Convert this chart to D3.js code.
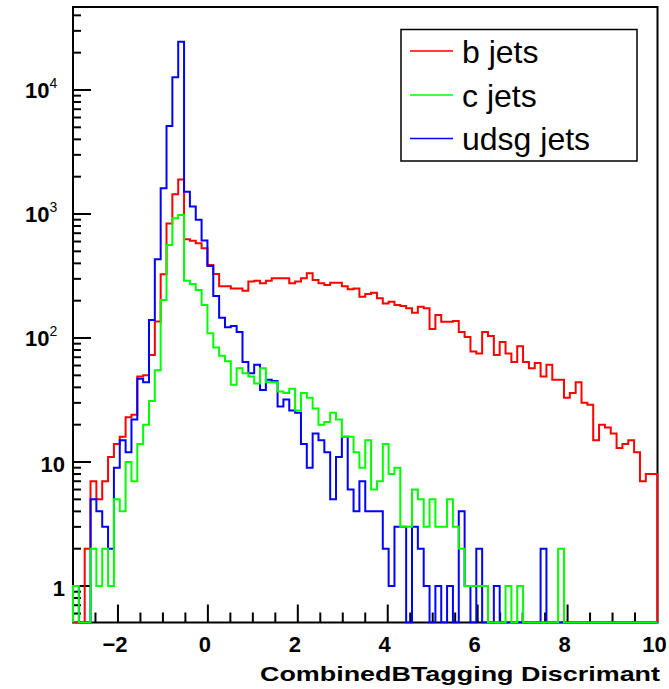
<!DOCTYPE html>
<meta charset="UTF-8">
<title>CombinedBTagging Discrimant</title>
<style>
body { margin: 0; background: #fff; }
text { font-family: "Liberation Sans", Arial, sans-serif; }
</style>
<svg width="669" height="689"></svg>
<script src="https://d3js.org/d3.v7.min.js"></script>
<script>
// histogram binning: 100 bins from -3 to 10
var binLow = -3, binWidth = 0.13;

var bJets = [0, 0, 2, 7, 5, 7, 11, 14, 16, 23,
  24, 49, 50, 73, 136, 327, 840, 1440, 1900, 625,
  609, 580, 529, 388, 328, 262, 262, 251, 251, 241,
  285, 290, 276, 290, 303, 303, 303, 276, 285, 303,
  333, 294, 276, 267, 279, 279, 262, 247, 251, 215,
  226, 232, 209, 190, 196, 185, 181, 174, 160, 179,
  174, 118, 153, 135, 135, 137, 112, 102, 78, 75,
  112, 104, 73, 93, 75, 64, 86, 64, 57, 63,
  49, 61, 46, 46, 33, 36, 44, 30, 29, 15,
  20, 19, 17, 13, 14, 15, 12, 7, 8, 8];

var cJets = [1, 0, 0, 2, 1, 2, 1, 5, 4, 10,
  7, 14, 20, 31, 55, 203, 562, 923, 982, 290,
  272, 244, 185, 109, 84, 72, 65, 42, 57, 52,
  49, 43, 57, 44, 44, 37, 36, 39, 26, 36,
  33, 27, 20, 21, 25, 22, 16, 16, 12, 9,
  15, 6, 7, 14, 8, 9, 3, 3, 6, 5,
  3, 5, 3, 3, 5, 3, 2, 1, 1, 1,
  1, 0, 0, 0, 1, 0, 1, 0, 0, 0,
  0, 0, 0, 2, 0, 0, 0, 0, 0, 0,
  0, 0, 0, 0, 0, 0, 0, 0, 0, 0];

var udsgJets = [1, 0, 0, 5, 4, 3, 2, 9, 15, 12,
  22, 47, 44, 140, 431, 1610, 5130, 12650, 24500, 1510,
  1150, 900, 612, 380, 218, 146, 122, 125, 112, 64,
  52, 61, 38, 46, 45, 28, 32, 26, 25, 14,
  9, 17, 15, 12, 5, 11, 16, 6, 4, 7,
  4, 4, 4, 2, 1, 3, 3, 0, 3, 2,
  1, 0, 1, 0, 1, 0, 4, 1, 0, 2,
  0, 0, 1, 0, 0, 0, 0, 0, 0, 0,
  2, 0, 0, 0, 0, 0, 0, 0, 0, 0,
  0, 0, 0, 0, 0, 0, 0, 0, 0, 0];

var seriesNames = ["b jets", "c jets", "udsg jets"];
var seriesColors = ["#ff0000", "#00ff00", "#0000ff"];
var xTicks = [-2, 0, 2, 4, 6, 8, 10];
var xTickLabels = ["\u22122", "0", "2", "4", "6", "8", "10"];
var yTicks = [1, 10, 100, 1000, 10000];
var yTickLabels = ["1", "10", "10^2", "10^3", "10^4"];

var svg = d3.select("svg"),
    frame = {left: 73, right: 657.5, top: 7, bottom: 622.5};

var x = d3.scaleLinear().domain([-3, 10]).range([frame.left, frame.right]);
var y = d3.scaleLog().domain([0.508, 46700]).range([frame.bottom, frame.top]);

svg.append("defs").append("clipPath").attr("id", "plot")
  .append("rect")
    .attr("x", frame.left - 1).attr("y", frame.top)
    .attr("width", frame.right - frame.left + 2)
    .attr("height", frame.bottom - frame.top + 1);

// frame
svg.append("rect")
    .attr("x", frame.left).attr("y", frame.top)
    .attr("width", frame.right - frame.left)
    .attr("height", frame.bottom - frame.top)
    .attr("fill", "none")
    .attr("stroke", "#000")
    .attr("stroke-width", 2);

// x ticks (inside, pointing up)
var xMinor = d3.range(-2.5, 10, 0.5);
svg.append("g").selectAll("line")
  .data(xMinor)
  .enter().append("line")
    .attr("x1", function(d) { return x(d); })
    .attr("x2", function(d) { return x(d); })
    .attr("y1", frame.bottom)
    .attr("y2", function(d) { return frame.bottom - (d % 2 === 0 ? 18 : 10); })
    .attr("stroke", "#000")
    .attr("stroke-width", 2);

svg.append("g").selectAll("text")
  .data(xTicks)
  .enter().append("text")
    .attr("x", function(d) { return x(d) - 3; })
    .attr("y", 652)
    .attr("text-anchor", "middle")
    .attr("font-size", 22)
    .attr("font-weight", "bold")
    .text(function(d, i) { return xTickLabels[i]; });

// y ticks (inside, pointing right)
svg.append("g").selectAll("line")
  .data(y.ticks())
  .enter().append("line")
    .attr("x1", frame.left)
    .attr("x2", function(d) {
      var l = Math.log10(d);
      return frame.left + (Math.abs(l - Math.round(l)) < 1e-9 ? 18 : 8);
    })
    .attr("y1", function(d) { return y(d); })
    .attr("y2", function(d) { return y(d); })
    .attr("stroke", "#000")
    .attr("stroke-width", 2);

var ylab = svg.append("g");
yTicks.forEach(function(t, i) {
  var parts = yTickLabels[i].split("^");
  if (parts.length > 1) {
    ylab.append("text")
        .attr("x", 49.5).attr("y", y(t) + 8)
        .attr("text-anchor", "end")
        .attr("font-size", 22).attr("font-weight", "bold")
        .text(parts[0]);
    ylab.append("text")
        .attr("x", 49.5).attr("y", y(t) - 2)
        .attr("font-size", 14)
        .text(parts[1]);
  } else {
    ylab.append("text")
        .attr("x", 65).attr("y", y(t) + 10)
        .attr("text-anchor", "end")
        .attr("font-size", 22).attr("font-weight", "bold")
        .text(parts[0]);
  }
});

svg.append("text")
    .attr("x", 660).attr("y", 681)
    .attr("text-anchor", "end")
    .attr("font-size", 21)
    .attr("font-weight", "bold")
    .attr("textLength", 400)
    .attr("lengthAdjust", "spacingAndGlyphs")
    .text("CombinedBTagging Discrimant");

// histograms
function histPath(values) {
  var p = d3.path();
  p.moveTo(x(binLow), frame.bottom);
  values.forEach(function(v, i) {
    var yy = v > 0 ? y(v) : frame.bottom;
    p.lineTo(x(binLow + i * binWidth), yy);
    p.lineTo(x(binLow + (i + 1) * binWidth), yy);
  });
  p.lineTo(x(binLow + values.length * binWidth), frame.bottom);
  return p.toString();
}

var series = [bJets, cJets, udsgJets];
var hg = svg.append("g").attr("clip-path", "url(#plot)");
[0, 2, 1].forEach(function(k) {
  hg.append("path")
      .attr("d", histPath(series[k]))
      .attr("fill", "none")
      .attr("stroke", seriesColors[k])
      .attr("stroke-width", 2)
      .attr("stroke-linejoin", "miter");
});

// legend
var legend = {x: 401, y: 29.5, w: 236, h: 131.5, rows: [51, 95, 138.5]};
svg.append("rect")
    .attr("x", legend.x).attr("y", legend.y)
    .attr("width", legend.w).attr("height", legend.h)
    .attr("fill", "#fff")
    .attr("stroke", "#000")
    .attr("stroke-width", 1.5);

var lg = svg.append("g").selectAll("g")
  .data(seriesNames)
  .enter().append("g");
lg.append("line")
    .attr("x1", 410).attr("x2", 453)
    .attr("y1", function(d, i) { return legend.rows[i]; })
    .attr("y2", function(d, i) { return legend.rows[i]; })
    .attr("stroke", function(d, i) { return seriesColors[i]; })
    .attr("stroke-width", 1.5);
lg.append("text")
    .attr("x", 462)
    .attr("y", function(d, i) { return legend.rows[i] + 11.5; })
    .attr("font-size", 32)
    .text(function(d) { return d; });
</script>
